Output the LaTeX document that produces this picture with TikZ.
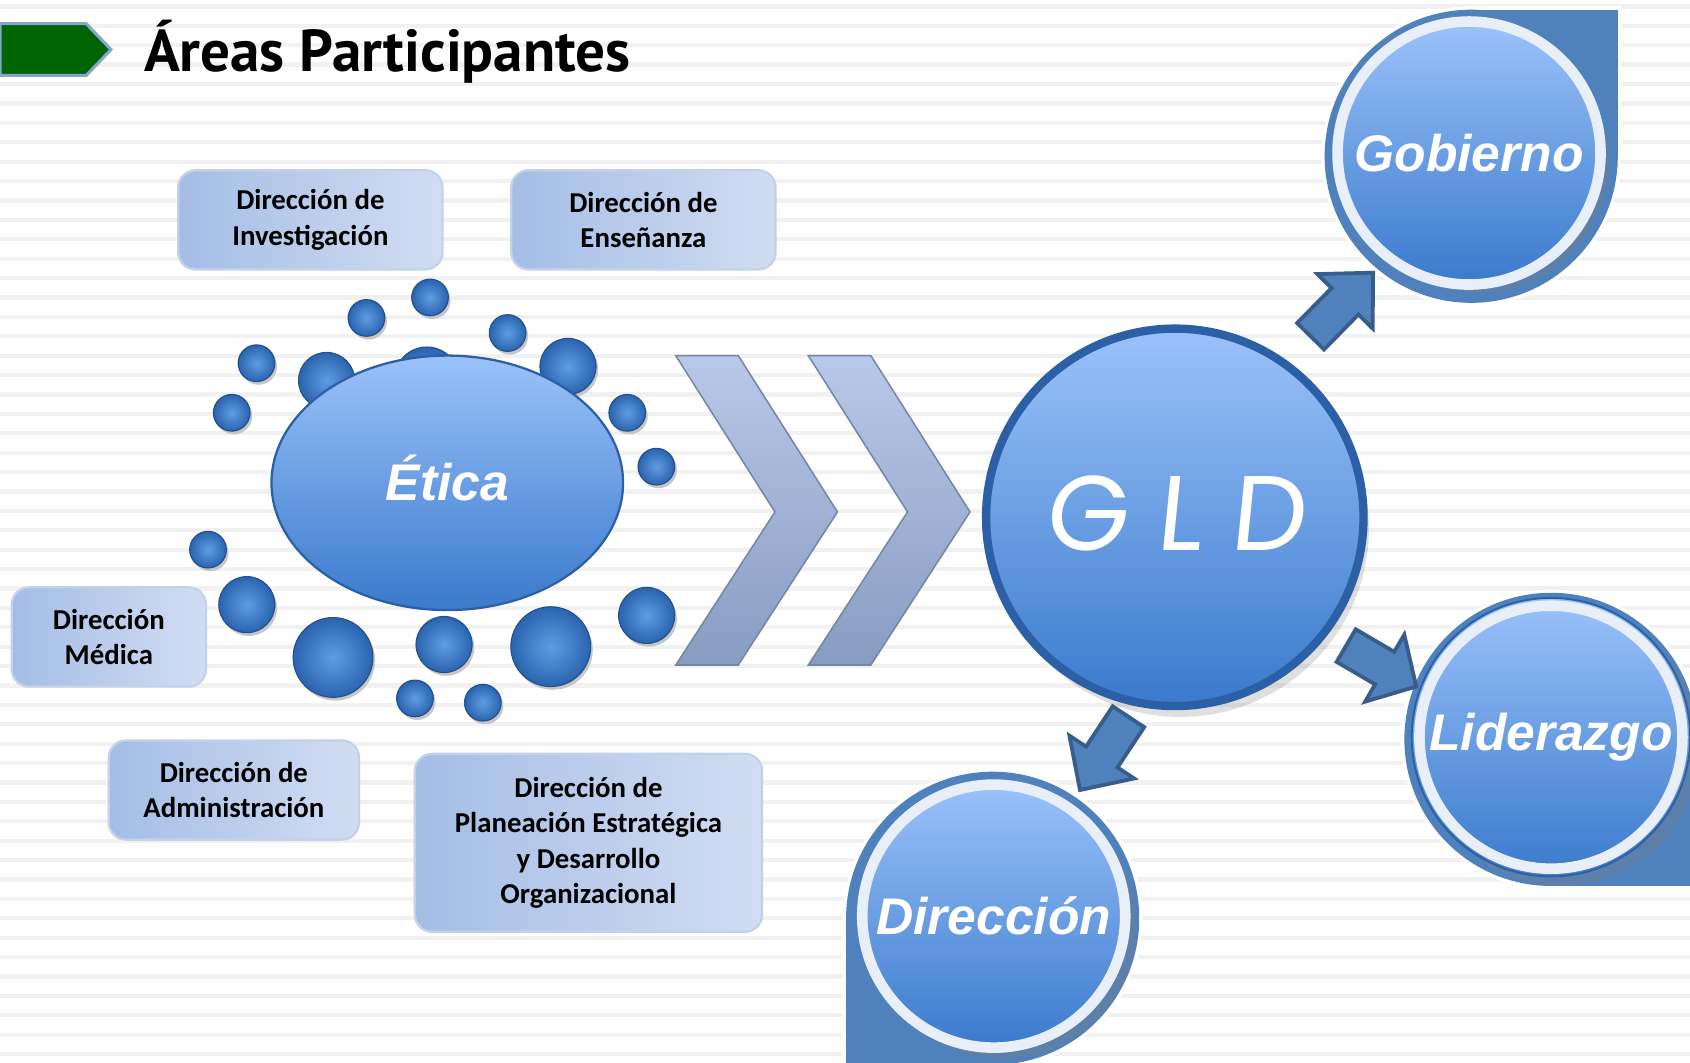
\documentclass[tikz,border=0pt]{standalone}
\usepackage{fontspec}
\setmainfont{Carlito}
\newfontfamily\titlefont{PT Sans}
\newfontfamily\labelfont{Liberation Sans}
\newfontfamily\gldfont[FakeSlant=0.1]{Poppins}
\usetikzlibrary{calc,shapes.geometric,shadows}

\definecolor{stripe}{RGB}{241,241,241}
\definecolor{boxleft}{RGB}{164,189,230}
\definecolor{boxright}{RGB}{210,221,242}
\definecolor{boxline}{RGB}{196,209,235}
\definecolor{bubblein}{RGB}{96,156,226}
\definecolor{bubbleout}{RGB}{42,100,176}
\definecolor{lighttop}{RGB}{155,194,250}
\definecolor{darkbottom}{RGB}{58,122,204}
\definecolor{ringblue}{RGB}{79,129,189}
\definecolor{ringdark}{RGB}{44,96,166}
\definecolor{ringwhite}{RGB}{233,239,248}
\definecolor{arrowline}{RGB}{56,93,138}
\definecolor{chevtop}{RGB}{184,200,232}
\definecolor{chevbottom}{RGB}{136,156,194}
\definecolor{titlegreen}{RGB}{0,100,0}

\begin{document}
\begin{tikzpicture}[x=0.01cm,y=-0.01cm,
	areabox/.style={draw=boxline, line width=0.6pt, rounded corners=0.16cm,
		left color=boxleft, right color=boxright, align=center, inner sep=0pt,
		font=\fontsize{7.6}{9.4}\selectfont\bfseries},
	bead/.style={inner color=bubblein, outer color=bubbleout},
	glossy/.style={top color=lighttop, bottom color=darkbottom},
	roundlabel/.style={text=white, font=\labelfont\fontsize{13.6}{16}\selectfont\bfseries\itshape},
	arrowbox/.style={fill=ringblue, draw=arrowline, line width=1pt, line join=miter},
	chevron/.style={top color=chevtop, bottom color=chevbottom, draw=chevbottom!85!black, line width=0.4pt}]

	% sizes
	\def\rin{2.34cm}   % inner circles
	\def\rout{136}     % blue drops
	\def\sw{0.175cm}   % arrow shaft half width
	\def\hw{0.36cm}    % arrow head half width

	% page and stripes
	\useasboundingbox (0,0) rectangle (1568,986);
	\fill[white] (0,0) rectangle (1568,986);
	\foreach \y in {4,22,...,986}
		\fill[stripe] (0,\y) rectangle (1568,\y+4);

	% title
	\draw[fill=titlegreen, draw=ringblue!70, line width=0.8pt]
		(0,22) -- (80,22) -- (103,46) -- (80,70) -- (0,70) -- cycle;
	\node (title) [anchor=base west, inner sep=0pt] at (133,66)
		{\titlefont\bfseries\fontsize{15.6}{18}\selectfont Áreas Participantes};

	% areas
	\node (investigacion) [areabox, minimum width=2.45cm, minimum height=0.92cm]
		at (288,204) {Dirección de\\Investigación};
	\node (ensenanza) [areabox, minimum width=2.45cm, minimum height=0.92cm]
		at (597,204) {Dirección de\\Enseñanza};
	\node (medica) [areabox, minimum width=1.80cm, minimum height=0.92cm]
		at (101,591) {Dirección\\Médica};
	\node (administracion) [areabox, minimum width=2.32cm, minimum height=0.92cm]
		at (217,733) {Dirección de\\Administración};
	\node (planeacion) [areabox, minimum width=3.22cm, minimum height=1.65cm]
		at (546,782) {Dirección de\\Planeación Estratégica\\y Desarrollo\\Organizacional};

	% bubbles round the ellipse
	\foreach \bx/\by/\br in {399/276/17, 340/295/17, 471/309/17, 238/337/17,
		303/353/26, 396/352/30, 527/340/26, 215/383/17, 582/383/17, 609/433/17,
		193/510/17, 229/561/26, 309/610/37, 412/598/26, 511/600/37, 600/571/26,
		385/648/17, 448/652/17} {
		\fill[gray!45] (\bx+2,\by+3) circle (\br);
		\shade[bead] (\bx,\by) circle (\br);
		\draw[bubbleout!80!black, line width=0.3pt] (\bx,\by) circle (\br);
	}

	% ethics
	\node (etica) [ellipse, glossy, draw=ringdark, line width=0.6pt,
		minimum width=3.26cm, minimum height=2.36cm, roundlabel] at (415,448)
		{\raisebox{0.1cm}{Ética}};

	% chevrons
	\draw[chevron] (627,330) -- (685,330) -- (777,475) -- (685,617) -- (627,617) -- (719,475) -- cycle;
	\draw[chevron] (750,330) -- (808,330) -- (900,475) -- (808,617) -- (750,617) -- (842,475) -- cycle;

	% GLD
	\node (gld) [circle, glossy, draw=ringdark, line width=2.2pt, minimum size=3.5cm,
		drop shadow={opacity=0.25, shadow xshift=0.3ex, shadow yshift=-0.6ex}, text=white,
		font=\gldfont\fontsize{28}{32}\selectfont] at (1090,480) {\raisebox{0.08cm}{G L D}};

	% blue drops behind the three circles
	\foreach \cx/\cy/\sx/\sy in {1365/145/1/-1, 1439/686/1/1, 921/852/-1/1} {
		\fill[white] (\cx,\cy) circle (\rout+3);
		\fill[white] (\cx,\cy) rectangle ++({(\rout+3)*\sx},{(\rout+3)*\sy});
		\fill[ringblue] (\cx,\cy) circle (\rout);
		\fill[ringblue] (\cx,\cy) rectangle ++({\rout*\sx},{\rout*\sy});
	}

	% circles
	\node (gobierno) [circle, glossy, draw=ringdark, line width=0.5pt, minimum size=\rin,
		drop shadow={opacity=0.3}, roundlabel] at (1363,142) {Gobierno};
	\node (liderazgo) [circle, glossy, draw=ringdark, line width=0.5pt, minimum size=\rin,
		drop shadow={opacity=0.3}, roundlabel] at (1439,684) {Liderazgo};
	\node (direccion) [circle, glossy, draw=ringdark, line width=0.5pt, minimum size=\rin,
		drop shadow={opacity=0.3}, roundlabel] at (922,850) {Dirección};
	\foreach \n in {gobierno,liderazgo,direccion}
		\draw[ringwhite, line width=2.8pt] (\n) circle (122);

	% arrows out of GLD
	\coordinate (gobtail) at (1216,312);
	\coordinate (gobtip) at (1274,253);
	\coordinate (lidtail) at (1249,599);
	\coordinate (lidtip) at (1314,637);
	\coordinate (dirtail) at (1047,665);
	\coordinate (dirtip) at (1002,733);

	\def\blockarrow#1#2{%
		\draw[arrowbox] ($(#1)!\sw!90:(#2)$)
			-- ($($(#1)!0.55!(#2)$)!\sw!90:(#2)$)
			-- ($($(#1)!0.55!(#2)$)!\hw!90:(#2)$)
			-- (#2)
			-- ($($(#1)!0.55!(#2)$)!\hw!-90:(#2)$)
			-- ($($(#1)!0.55!(#2)$)!\sw!-90:(#2)$)
			-- ($(#1)!\sw!-90:(#2)$) -- cycle;}
	\blockarrow{gobtail}{gobtip}
	\blockarrow{lidtail}{lidtip}
	\blockarrow{dirtail}{dirtip}

\end{tikzpicture}
\end{document}
